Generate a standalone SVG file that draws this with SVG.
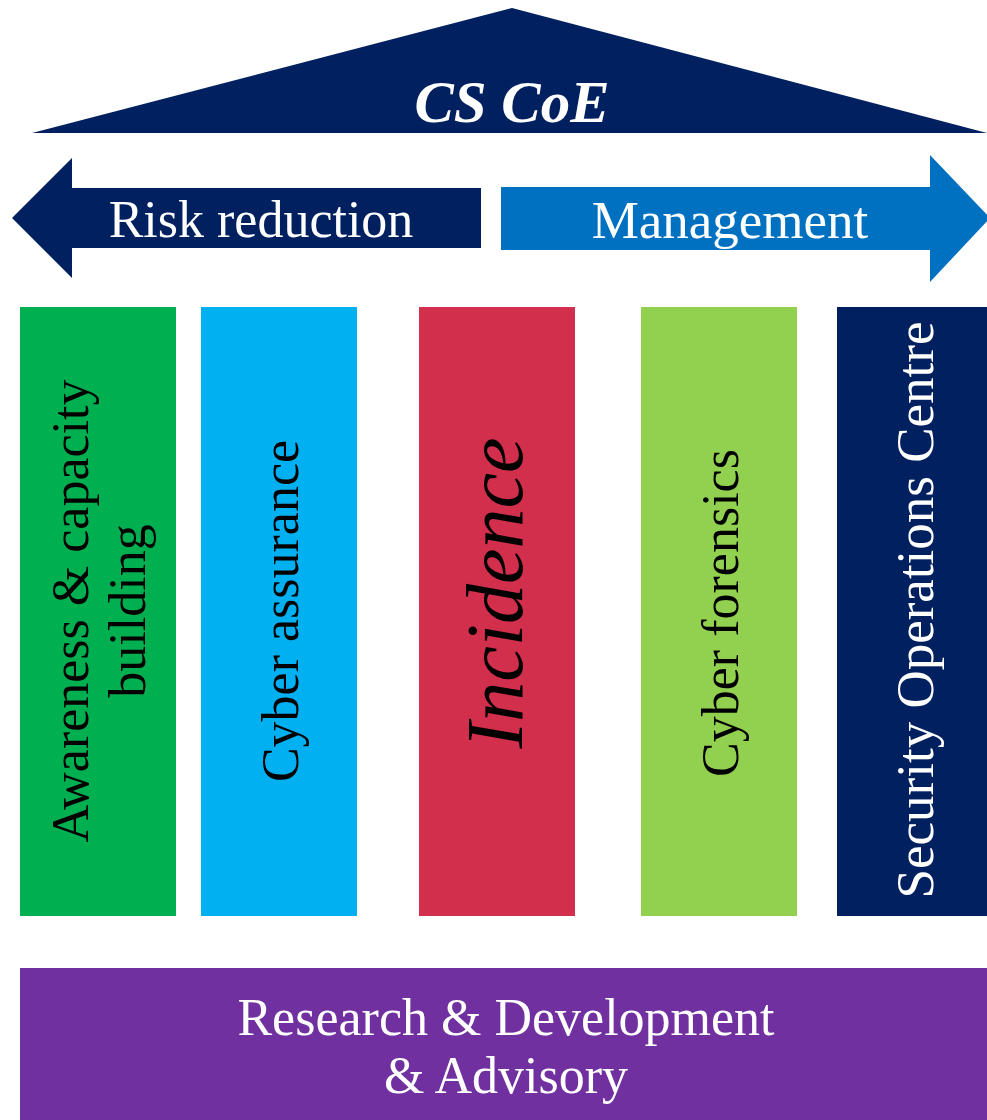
<svg xmlns="http://www.w3.org/2000/svg" width="987" height="1120" viewBox="0 0 987 1120">
<style>
.t{font-family:"Liberation Serif","Times New Roman",serif;font-size:52px;text-anchor:middle}
.w{fill:#ffffff}
.k{fill:#000000}
</style>
<rect width="987" height="1120" fill="#ffffff"/>
<g id="roof">
<polygon points="512,8 987,133 32,133" fill="#002060"/>
<text class="t w" x="512" y="122" style="font-size:59px" font-weight="bold" font-style="italic" textLength="195" lengthAdjust="spacingAndGlyphs">CS CoE</text>
</g>
<g id="risk-reduction">
<polygon points="12,218 72,158 72,188 481,188 481,248 72,248 72,278" fill="#002060"/>
<text class="t w" x="261" y="237">Risk reduction</text>
</g>
<g id="management">
<polygon points="501,187 930,187 930,155 990,218 930,282 930,250 501,250" fill="#0070C0"/>
<text class="t w" x="730" y="238" style="font-size:53px">Management</text>
</g>
<g id="awareness">
<rect x="20" y="307" width="156" height="609" fill="#00B050"/>
<text class="t k" transform="translate(88,611) rotate(-90)"><tspan x="0" y="0">Awareness &amp; capacity</tspan><tspan x="0" y="57">building</tspan></text>
</g>
<g id="cyber-assurance">
<rect x="201" y="307" width="156" height="609" fill="#00B0F0"/>
<text class="t k" transform="translate(298,611) rotate(-90)">Cyber assurance</text>
</g>
<g id="incidence">
<rect x="419" y="307" width="156" height="609" fill="#D12F4B"/>
<text class="t k" transform="translate(522,593) rotate(-90)" style="font-size:80px;font-style:italic">Incidence</text>
</g>
<g id="cyber-forensics">
<rect x="641" y="307" width="156" height="609" fill="#92D050"/>
<text class="t k" transform="translate(738,613) rotate(-90)">Cyber forensics</text>
</g>
<g id="soc">
<rect x="837" y="307" width="150" height="609" fill="#002060"/>
<text class="t w" transform="translate(933,610) rotate(-90)" style="font-size:53px">Security Operations Centre</text>
</g>
<g id="research">
<rect x="20" y="968" width="967" height="152" fill="#7030A0"/>
<text class="t w" x="506" y="1035">Research &amp; Development</text>
<text class="t w" x="506" y="1093">&amp; Advisory</text>
</g>
<g id="connectors"></g>
</svg>
